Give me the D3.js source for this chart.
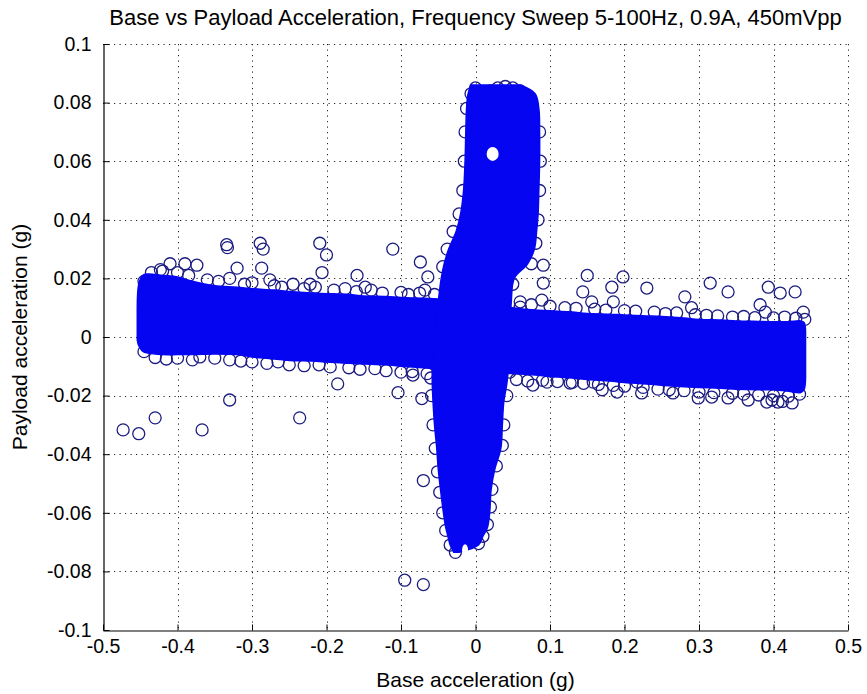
<!DOCTYPE html>
<html>
<head>
<meta charset="utf-8">
<script src="https://cdnjs.cloudflare.com/ajax/libs/d3/7.8.5/d3.min.js"></script>
<style>
  html, body { margin: 0; padding: 0; background: #ffffff; }
  svg { display: block; }
  text { font-family: "Liberation Sans", Arial, Helvetica, sans-serif; fill: #000; }
</style>
</head>
<body>
<svg id="chart" width="867" height="694"></svg>
<script>
// ---- axis ticks ----
const xTicks = [-0.5, -0.4, -0.3, -0.2, -0.1, 0, 0.1, 0.2, 0.3, 0.4, 0.5];
const xTickLabels = ["-0.5", "-0.4", "-0.3", "-0.2", "-0.1", "0", "0.1", "0.2", "0.3", "0.4", "0.5"];
const yTicks = [-0.1, -0.08, -0.06, -0.04, -0.02, 0, 0.02, 0.04, 0.06, 0.08, 0.1];
const yTickLabels = ["-0.1", "-0.08", "-0.06", "-0.04", "-0.02", "0", "0.02", "0.04", "0.06", "0.08", "0.1"];

// ---- dense cloud: horizontal band (base acceleration sweep) ----
const hBandX      = [-0.454, -0.452, -0.447, -0.44, -0.42, -0.40, -0.38, -0.35, -0.32, -0.30, -0.27, -0.25, -0.22, -0.20, -0.17, -0.15, -0.12, -0.10, -0.07, -0.05, 0.00, 0.05, 0.08, 0.10, 0.13, 0.15, 0.18, 0.20, 0.23, 0.25, 0.28, 0.30, 0.33, 0.35, 0.38, 0.40, 0.42, 0.436, 0.441, 0.443];
const hBandTop    = [0.010, 0.018, 0.021, 0.0215, 0.021, 0.0205, 0.019, 0.0175, 0.017, 0.0165, 0.016, 0.0155, 0.015, 0.0148, 0.0145, 0.014, 0.0138, 0.0135, 0.0132, 0.013, 0.012, 0.010, 0.0092, 0.009, 0.0085, 0.008, 0.0078, 0.0075, 0.0072, 0.007, 0.0065, 0.006, 0.0058, 0.0055, 0.0053, 0.0052, 0.0052, 0.0055, 0.005, 0.002];
const hBandBottom = [-0.001, -0.003, -0.0048, -0.0055, -0.006, -0.006, -0.006, -0.0058, -0.006, -0.0068, -0.0075, -0.008, -0.0082, -0.0085, -0.009, -0.0092, -0.0095, -0.010, -0.0105, -0.011, -0.012, -0.0125, -0.013, -0.0135, -0.014, -0.0145, -0.015, -0.0155, -0.016, -0.0165, -0.017, -0.0172, -0.0175, -0.0178, -0.018, -0.018, -0.0185, -0.019, -0.018, -0.012];

// ---- dense cloud: vertical band (payload resonance) ----
const vBandY     = [0.086, 0.083, 0.078, 0.070, 0.060, 0.050, 0.042, 0.036, 0.030, 0.025, 0.020, 0.012, 0.000, -0.011, -0.016, -0.022, -0.030, -0.038, -0.045, -0.052, -0.060, -0.065, -0.068, -0.071, -0.0735];
const vBandLeft  = [-0.006, -0.010, -0.012, -0.013, -0.014, -0.016, -0.020, -0.026, -0.036, -0.042, -0.046, -0.050, -0.055, -0.058, -0.058, -0.057, -0.055, -0.052, -0.050, -0.047, -0.043, -0.040, -0.037, -0.034, -0.029];
const vBandRight = [0.060, 0.080, 0.085, 0.086, 0.086, 0.085, 0.084, 0.082, 0.079, 0.070, 0.052, 0.048, 0.046, 0.044, 0.042, 0.038, 0.036, 0.034, 0.026, 0.021, 0.019, 0.016, 0.010, 0.004, -0.022];

// empty pockets inside the vertical band (upper hole, gap between the two lower lobes)
const voidX  = [0.023, -0.014];
const voidY  = [0.0625, -0.0728];
const voidRx = [6, 3];
const voidRy = [7, 6];

// ---- individual samples (base g, payload g) ----
const sampleX = [
  -0.473, -0.452, -0.430, -0.367, -0.330, -0.236, -0.185, -0.104, -0.072, -0.084, -0.070, -0.095, -0.070,
  -0.334, -0.333, -0.289, -0.285, -0.287, -0.276, -0.320, -0.410, -0.390, -0.374, -0.423, -0.209, -0.200, -0.206, -0.222, -0.159, -0.148, -0.111, -0.074, -0.064, -0.068,
  0.091, 0.091, 0.089, 0.060, 0.150, 0.198, 0.144, 0.183, 0.185, 0.156, 0.230, 0.315, 0.339, 0.281, 0.290, 0.393, 0.409, 0.429, 0.382, 0.389, 0.440, 0.442,
  0.170, 0.190, 0.223, 0.265, 0.299, 0.317, 0.339, 0.366, 0.391, 0.406, 0.425, 0.096, 0.127, 0.158, 0.217, 0.077, 0.412, 0.398,
  -0.445, -0.435, -0.420, -0.400, -0.385, -0.360, -0.345, -0.330, -0.310, -0.300, -0.270, -0.260, -0.245, -0.230, -0.215, -0.190, -0.175, -0.160, -0.140, -0.125, -0.100, -0.090, -0.075, -0.055,
  0.060, 0.075, 0.100, 0.120, 0.135, 0.160, 0.175, 0.200, 0.215, 0.240, 0.255, 0.270, 0.295, 0.310, 0.325, 0.345, 0.360, 0.375, 0.400, 0.415, 0.430,
  -0.445, -0.430, -0.415, -0.400, -0.380, -0.370, -0.350, -0.330, -0.315, -0.300, -0.280, -0.265, -0.250, -0.230, -0.210, -0.195, -0.170, -0.155, -0.135, -0.120, -0.100, -0.085, -0.065,
  0.055, 0.070, 0.090, 0.110, 0.130, 0.145, 0.165, 0.185, 0.200, 0.225, 0.245, 0.260, 0.280, 0.300, 0.320, 0.345, 0.360, 0.380, 0.400, 0.420, 0.435,
  -0.012, -0.014, -0.015, -0.017, -0.022, -0.030, -0.038, -0.044, -0.060, -0.059, -0.057, -0.054, -0.051, -0.048, -0.044, -0.040, -0.034, -0.027,
  0.086, 0.087, 0.086, 0.084, 0.081, 0.075, 0.050, 0.046, 0.042, 0.038, 0.036, 0.028, 0.022, 0.020, 0.016, 0.010, 0.004,
  0.000, 0.010, 0.020, 0.030, 0.040, 0.050, 0.060, 0.070, -0.006
];
const sampleY = [
  -0.0317, -0.0330, -0.0276, -0.0317, -0.0215, -0.0276, -0.0160, -0.0190, -0.0210, -0.0130, -0.0490, -0.0830, -0.0845,
  0.0315, 0.0305, 0.0320, 0.0300, 0.0235, 0.0195, 0.0235, 0.0250, 0.0250, 0.0245, 0.0230, 0.0320, 0.0280, 0.0220, 0.0180, 0.0210, 0.0170, 0.0300, 0.0256, 0.0205, 0.0160,
  0.0245, 0.0184, 0.0126, 0.0102, 0.0210, 0.0205, 0.0154, 0.0170, 0.0120, 0.0120, 0.0167, 0.0184, 0.0154, 0.0137, 0.0100, 0.0170, 0.0150, 0.0154, 0.0110, 0.0085, 0.0085, 0.0060,
  -0.0180, -0.0188, -0.0191, -0.0191, -0.0208, -0.0205, -0.0208, -0.0215, -0.0222, -0.0222, -0.0225, -0.0154, -0.0157, -0.0154, -0.0154, -0.0164, -0.0220, -0.0215,
  0.019, 0.022, 0.0225, 0.022, 0.021, 0.0195, 0.019, 0.020, 0.018, 0.0185, 0.0175, 0.017, 0.018, 0.0165, 0.017, 0.016, 0.0165, 0.0155, 0.016, 0.015, 0.0152, 0.0145, 0.015, 0.0145,
  0.012, 0.011, 0.0105, 0.010, 0.0098, 0.0095, 0.0092, 0.009, 0.0088, 0.0085, 0.008, 0.0082, 0.0076, 0.0074, 0.0072, 0.0068, 0.007, 0.0066, 0.0065, 0.0068, 0.0064,
  -0.005, -0.007, -0.0075, -0.0072, -0.0078, -0.0068, -0.0072, -0.0078, -0.0082, -0.0085, -0.009, -0.0085, -0.0095, -0.0098, -0.0095, -0.0102, -0.0105, -0.011, -0.0108, -0.0115, -0.012, -0.0118, -0.0125,
  -0.0145, -0.015, -0.0148, -0.0152, -0.0155, -0.0158, -0.0162, -0.0165, -0.0168, -0.0172, -0.0178, -0.018, -0.0183, -0.0188, -0.019, -0.0192, -0.0195, -0.0198, -0.020, -0.0202, -0.0195,
  0.078, 0.070, 0.060, 0.050, 0.042, 0.036, 0.030, 0.024, -0.014, -0.020, -0.030, -0.038, -0.046, -0.053, -0.060, -0.066, -0.071, -0.0735,
  0.070, 0.060, 0.050, 0.040, 0.032, 0.025, 0.018, -0.012, -0.020, -0.030, -0.037, -0.044, -0.052, -0.058, -0.064, -0.068, -0.0705,
  0.085, 0.0835, 0.084, 0.085, 0.0855, 0.085, 0.084, 0.0825, 0.083
];

const titleText = "Base vs Payload Acceleration, Frequency Sweep 5-100Hz, 0.9A, 450mVpp";
const xLabelText = "Base acceleration (g)";
const yLabelText = "Payload acceleration (g)";

// ---- layout ----
const W = 867, H = 694;
const plotLeft = 103, plotRight = 848, plotTop = 44, plotBottom = 630;
const markerBlue = "#0505f2";
const ringColor = "#1c1c80";

const svg = d3.select("#chart");
svg.append("rect").attr("width", W).attr("height", H).attr("fill", "#fff");

const x = d3.scaleLinear().domain([-0.5, 0.5]).range([plotLeft, plotRight]);
const y = d3.scaleLinear().domain([-0.1, 0.1]).range([plotBottom, plotTop]);

// ---- dotted grid ----
const grid = svg.append("g").attr("stroke", "#222").attr("stroke-width", 1).attr("stroke-dasharray", "1.2,4.3");
grid.selectAll("line.gx").data(xTicks.filter(d => d !== -0.5)).join("line")
  .attr("x1", d => Math.round(x(d)) + 0.5).attr("x2", d => Math.round(x(d)) + 0.5)
  .attr("y1", plotTop).attr("y2", plotBottom);
grid.selectAll("line.gy").data(yTicks.filter(d => d !== -0.1)).join("line")
  .attr("y1", d => Math.round(y(d)) + 0.5).attr("y2", d => Math.round(y(d)) + 0.5)
  .attr("x1", plotLeft).attr("x2", plotRight);

// ---- individual circle markers ----
const samples = sampleX.map((v, i) => ({ x: v, y: sampleY[i] }));
svg.append("g").selectAll("circle").data(samples).join("circle")
  .attr("cx", d => x(d.x)).attr("cy", d => y(d.y)).attr("r", 6)
  .attr("fill", "none").attr("stroke", ringColor).attr("stroke-width", 1.3);

// ---- dense regions where the markers fully overlap ----
const hBand = hBandX.map((v, i) => ({ x: v, top: hBandTop[i], bottom: hBandBottom[i] }));
const vBand = vBandY.map((v, i) => ({ y: v, left: vBandLeft[i], right: vBandRight[i] }));

svg.append("path").datum(hBand)
  .attr("d", d3.area().x(d => x(d.x)).y0(d => y(d.bottom)).y1(d => y(d.top)).curve(d3.curveCatmullRom))
  .attr("fill", markerBlue).attr("stroke", markerBlue).attr("stroke-width", 1.5);

svg.append("path").datum(vBand)
  .attr("d", d3.area().y(d => y(d.y)).x0(d => x(d.left)).x1(d => x(d.right)).curve(d3.curveCatmullRom))
  .attr("fill", markerBlue).attr("stroke", markerBlue).attr("stroke-width", 1.5);

const voids = voidX.map((v, i) => ({ x: v, y: voidY[i], rx: voidRx[i], ry: voidRy[i] }));
svg.append("g").selectAll("ellipse").data(voids).join("ellipse")
  .attr("cx", d => x(d.x)).attr("cy", d => y(d.y)).attr("rx", d => d.rx).attr("ry", d => d.ry).attr("fill", "#fff");

// ---- axes ----
const xAxis = svg.append("g").attr("transform", `translate(0,${plotBottom + 0.5})`)
  .call(d3.axisBottom(x).tickValues(xTicks).tickFormat((d, i) => xTickLabels[i])
    .tickSizeInner(-6).tickSizeOuter(0).tickPadding(9));
const yAxis = svg.append("g").attr("transform", `translate(${plotLeft + 0.5},0)`)
  .call(d3.axisLeft(y).tickValues(yTicks).tickFormat((d, i) => yTickLabels[i])
    .tickSizeInner(-6).tickSizeOuter(0).tickPadding(12));

[xAxis, yAxis].forEach(a => {
  a.select(".domain").attr("stroke", "#000").attr("stroke-width", 1.2);
  a.selectAll(".tick line").attr("stroke", "#000").attr("stroke-width", 1);
  a.selectAll(".tick text").attr("font-size", 19.5).attr("fill", "#000")
    .attr("font-family", "'Liberation Sans', Arial, sans-serif");
});

// ---- titles ----
svg.append("text").attr("x", (plotLeft + plotRight) / 2).attr("y", 25)
  .attr("text-anchor", "middle").attr("font-size", 22).text(titleText);

svg.append("text").attr("x", (plotLeft + plotRight) / 2).attr("y", 687)
  .attr("text-anchor", "middle").attr("font-size", 21).text(xLabelText);

svg.append("text")
  .attr("transform", `translate(27,${(plotTop + plotBottom) / 2}) rotate(-90)`)
  .attr("text-anchor", "middle").attr("font-size", 21).text(yLabelText);
</script>
</body>
</html>
